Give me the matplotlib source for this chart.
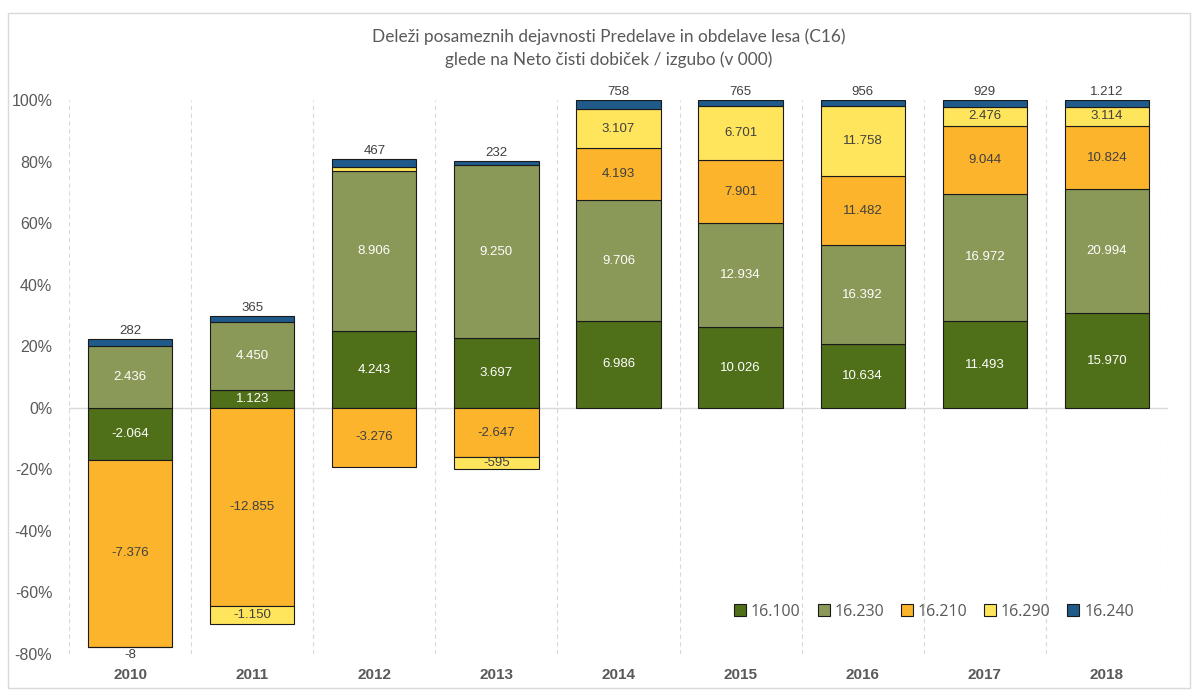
import numpy as np
import matplotlib.pyplot as plt
from matplotlib.patches import Rectangle

years = ['2010', '2011', '2012', '2013', '2014', '2015', '2016', '2017', '2018']
series = ['16.100', '16.230', '16.210', '16.290', '16.240']

v_16100 = [-2064, 1123, 4243, 3697, 6986, 10026, 10634, 11493, 15970]
v_16230 = [2436, 4450, 8906, 9250, 9706, 12934, 16392, 16972, 20994]
v_16210 = [-7376, -12855, -3276, -2647, 4193, 7901, 11482, 9044, 10824]
v_16290 = [-8, -1150, 200, -595, 3107, 6701, 11758, 2476, 3114]
v_16240 = [282, 365, 467, 232, 758, 765, 956, 929, 1212]

COLORS = ['#4F6F19', '#8A9858', '#FBB42C', '#FFE55C', '#1F5A8B']
LABEL_COLORS = ['white', 'white', '#404040', '#404040', '#404040']
GREY = '#595959'


def fmt(v):
    return f"{v:,.0f}".replace(',', '.')


values = np.array([v_16100, v_16230, v_16210, v_16290, v_16240], dtype=float)
shares = values / np.abs(values).sum(axis=0) * 100

fig = plt.figure(figsize=(11.98, 6.91), dpi=100)
ax = fig.add_axes([69 / 1198, 1 - 654 / 691, 1099 / 1198, 554 / 691])

# light frame around the whole chart
fig.patches.append(Rectangle((8 / 1198, 0.005), 1 - 16 / 1198, 1 - 13 / 691 - 0.005,
                             transform=fig.transFigure, fill=False,
                             edgecolor='#D9D9D9', linewidth=1))

x = np.arange(len(years))
width = 0.69
pos_base = np.zeros(len(years))
neg_base = np.zeros(len(years))

for i, name in enumerate(series):
    s = shares[i]
    bottom = np.where(s >= 0, pos_base, neg_base)
    ax.bar(x, s, width, bottom=bottom, color=COLORS[i], edgecolor='#1a1a1a',
           linewidth=0.8, label=name, zorder=3)
    for j in range(len(years)):
        val = values[i, j]
        if i == 4:
            ax.text(x[j], bottom[j] + s[j] + 0.6, fmt(val), ha='center', va='bottom',
                    fontsize=9.5, color='#404040', family='Liberation Sans', zorder=4)
        elif abs(s[j]) < 0.5:
            ax.text(x[j], bottom[j] + s[j] - 0.6, fmt(val), ha='center', va='top',
                    fontsize=9.5, color='#404040', family='Liberation Sans', zorder=4)
        elif abs(s[j]) >= 2:
            ax.text(x[j], bottom[j] + s[j] / 2, fmt(val), ha='center', va='center',
                    fontsize=9.5, color=LABEL_COLORS[i], family='Liberation Sans', zorder=4)
    pos_base = pos_base + np.where(s >= 0, s, 0)
    neg_base = neg_base + np.where(s < 0, s, 0)

ax.set_xlim(-0.5, len(years) - 0.5)
ax.set_ylim(-80, 100)
ax.set_yticks(np.arange(-80, 101, 20))
ax.set_yticklabels([f"{t}%" for t in range(-80, 101, 20)], family='Liberation Sans',
                   fontsize=11.5, color=GREY)
ax.set_xticks(x)
ax.set_xticklabels(years, family='Liberation Sans', fontsize=11, fontweight='bold', color=GREY)
ax.tick_params(length=0)
ax.tick_params(axis='y', pad=12)
ax.tick_params(axis='x', pad=10)

for b in np.arange(-0.5, len(years), 1.0):
    ax.axvline(b, color='#D9D9D9', linestyle=(0, (4, 3)), linewidth=0.8, zorder=1)
ax.axhline(0, color='#D9D9D9', linewidth=1, zorder=2)
for sp in ax.spines.values():
    sp.set_visible(False)

ax.legend(loc='center right', bbox_to_anchor=(0.969, 0.076), ncol=5, frameon=False,
          handlelength=0.75, handleheight=0.75, handletextpad=0.3, columnspacing=1.05,
          prop={'family': 'Open Sans', 'size': 11.5}, labelcolor=GREY,
          borderpad=0, borderaxespad=0)

fig.text(609 / 1198, 1 - 37 / 691, "Deleži posameznih dejavnosti Predelave in obdelave lesa (C16)",
         ha='center', va='center', fontsize=12.4, color=GREY, family='Lato')
fig.text(609 / 1198, 1 - 60 / 691, "glede na Neto čisti dobiček / izgubo (v 000)",
         ha='center', va='center', fontsize=12.4, color=GREY, family='Lato')

fig.savefig('out.png', dpi=100)
